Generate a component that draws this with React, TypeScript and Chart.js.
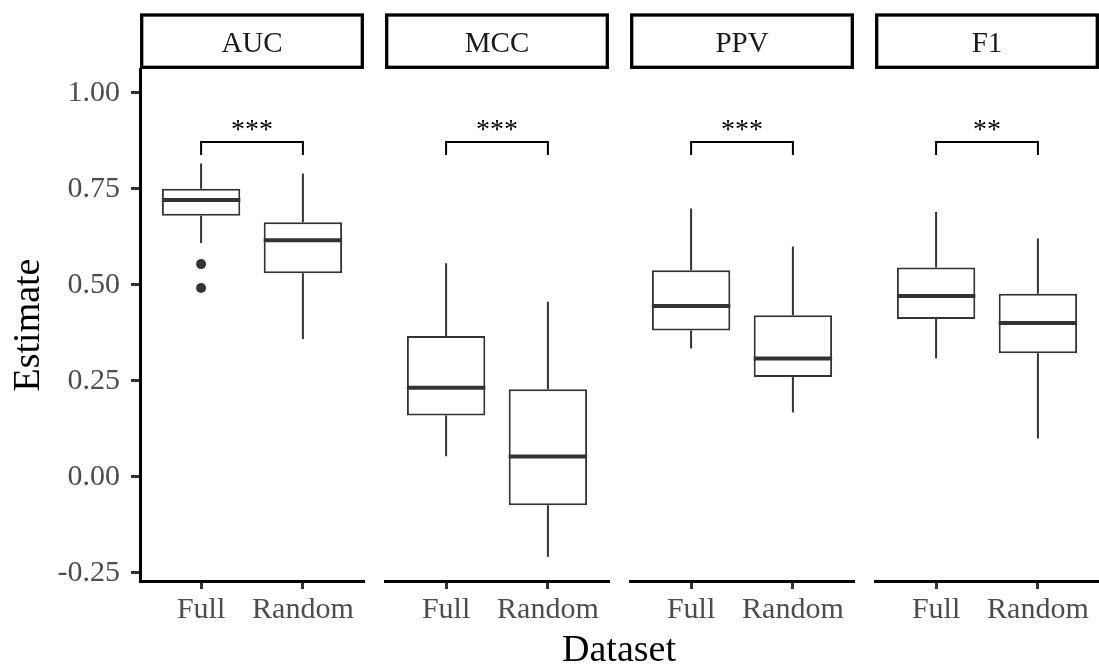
import React, { useEffect, useRef } from 'react';
import { Chart, registerables } from 'chart.js';

Chart.register(...registerables);
Chart.defaults.font.family = '"Liberation Serif", "Times New Roman", serif';

// ---------- data ----------
const metrics = ['AUC', 'MCC', 'PPV', 'F1'];
const datasetLabels = ['Full', 'Random'];
const xPositions = [1, 2];
const yTicks = [-0.25, 0, 0.25, 0.5, 0.75, 1.0];
const yMin = -0.271;
const yMax = 1.062;

const fullLower = [0.609, 0.054, 0.334, 0.308];
const fullQ1 = [0.680, 0.160, 0.381, 0.411];
const fullMedian = [0.721, 0.232, 0.445, 0.471];
const fullQ3 = [0.750, 0.367, 0.538, 0.545];
const fullUpper = [0.816, 0.556, 0.699, 0.690];

const randomLower = [0.359, -0.208, 0.168, 0.100];
const randomQ1 = [0.530, -0.074, 0.260, 0.322];
const randomMedian = [0.616, 0.053, 0.308, 0.401];
const randomQ3 = [0.663, 0.228, 0.421, 0.477];
const randomUpper = [0.790, 0.456, 0.600, 0.621];

const aucFullOutliers = [0.554, 0.492];

const significance = ['***', '***', '***', '**'];
const bracketTop = 0.872;
const bracketTip = 0.838;

// ---------- layout / style ----------
const panelLefts = [140, 385, 630, 875];
const panelWidth = 224;
const boxFraction = 0.77;
const BOX = '#333333';
const TICK_TXT = '#4D4D4D';

const boxPlugin = {
  id: 'boxExtras',
  beforeDatasetsDraw(chart: any, _a: any, opts: any) {
    const i = opts.index;
    const x = chart.scales.x;
    const y = chart.scales.y;
    const ctx = chart.ctx;
    const lowers = [fullLower[i], randomLower[i]];
    const uppers = [fullUpper[i], randomUpper[i]];
    const q1s = [fullQ1[i], randomQ1[i]];
    const q3s = [fullQ3[i], randomQ3[i]];
    ctx.save();
    ctx.strokeStyle = BOX;
    ctx.lineWidth = 2;
    for (let k = 0; k < 2; k++) {
      const px = x.getPixelForValue(xPositions[k]);
      ctx.beginPath();
      ctx.moveTo(px, y.getPixelForValue(uppers[k]));
      ctx.lineTo(px, y.getPixelForValue(q3s[k]));
      ctx.moveTo(px, y.getPixelForValue(q1s[k]));
      ctx.lineTo(px, y.getPixelForValue(lowers[k]));
      ctx.stroke();
    }
    ctx.restore();
  },
  afterDatasetsDraw(chart: any, _a: any, opts: any) {
    const i = opts.index;
    const x = chart.scales.x;
    const y = chart.scales.y;
    const ctx = chart.ctx;
    const medians = [fullMedian[i], randomMedian[i]];
    ctx.save();
    ctx.strokeStyle = BOX;
    ctx.lineWidth = 4;
    ctx.lineCap = 'butt';
    for (let k = 0; k < 2; k++) {
      const px = x.getPixelForValue(xPositions[k]);
      const half = x.getPixelForValue(xPositions[k] + boxFraction / 2) - px;
      const py = y.getPixelForValue(medians[k]);
      ctx.beginPath();
      ctx.moveTo(px - half, py);
      ctx.lineTo(px + half, py);
      ctx.stroke();
    }
    // significance bracket
    const x1 = x.getPixelForValue(xPositions[0]);
    const x2 = x.getPixelForValue(xPositions[1]);
    const yt = y.getPixelForValue(bracketTop);
    const yb = y.getPixelForValue(bracketTip);
    ctx.strokeStyle = '#000';
    ctx.lineWidth = 2;
    ctx.beginPath();
    ctx.moveTo(x1, yb);
    ctx.lineTo(x1, yt);
    ctx.lineTo(x2, yt);
    ctx.lineTo(x2, yb);
    ctx.stroke();
    ctx.fillStyle = '#000';
    ctx.font = '28px "Liberation Serif"';
    ctx.textAlign = 'center';
    ctx.textBaseline = 'alphabetic';
    ctx.fillText(significance[i], (x1 + x2) / 2, yt - 4);
    ctx.restore();
  },
  afterDraw(chart: any, _a: any, opts: any) {
    const i = opts.index;
    const ctx = chart.ctx;
    const { left, right, top } = chart.chartArea;
    ctx.save();
    ctx.fillStyle = '#fff';
    ctx.fillRect(left + 1.7, top - 54, right - left - 3.4, 52.3);
    ctx.strokeStyle = '#000';
    ctx.lineWidth = 3.3;
    ctx.strokeRect(left + 1.7, top - 54, right - left - 3.4, 52.3);
    ctx.fillStyle = '#1A1A1A';
    ctx.font = '29px "Liberation Serif"';
    ctx.textAlign = 'center';
    ctx.textBaseline = 'alphabetic';
    ctx.fillText(metrics[i], (left + right) / 2, top - 17.3);
    ctx.restore();
  },
};

function Panel({ index }: { index: number }) {
  const ref = useRef<HTMLCanvasElement | null>(null);
  const first = index === 0;
  const last = index === metrics.length - 1;
  const canvasLeft = first ? 0 : panelLefts[index] - 7;
  const padLeft = first ? 0 : 7;
  const padRight = last ? 0 : 6;
  const canvasWidth = last ? 1099 - canvasLeft : panelLefts[index] + panelWidth + padRight - canvasLeft;

  useEffect(() => {
    if (!ref.current) return;
    const datasets: any[] = [
      {
        type: 'bar',
        data: [
          { x: xPositions[0], y: [fullQ1[index], fullQ3[index]] },
          { x: xPositions[1], y: [randomQ1[index], randomQ3[index]] },
        ],
        backgroundColor: '#ffffff',
        borderColor: BOX,
        borderWidth: 2,
        borderSkipped: false,
        barPercentage: boxFraction,
        categoryPercentage: 1,
      },
    ];
    if (metrics[index] === 'AUC') {
      datasets.push({
        type: 'scatter',
        data: aucFullOutliers.map((v) => ({ x: xPositions[0], y: v })),
        pointRadius: 5,
        pointBackgroundColor: BOX,
        pointBorderWidth: 0,
        showLine: false,
      });
    }
    const chart = new Chart(ref.current, {
      type: 'bar',
      data: { datasets },
      plugins: [boxPlugin],
      options: {
        animation: false,
        responsive: false,
        events: [],
        layout: { padding: { top: 69, left: padLeft, right: padRight, bottom: 0 } },
        plugins: {
          legend: { display: false },
          tooltip: { enabled: false },
          boxExtras: { index },
        } as any,
        scales: {
          x: {
            type: 'linear',
            min: 0.4,
            max: 2.6,
            offset: false,
            afterBuildTicks: (s: any) => {
              s.ticks = xPositions.map((v) => ({ value: v }));
            },
            afterFit: (s: any) => {
              s.height = 85;
            },
            ticks: {
              autoSkip: false,
              maxRotation: 0,
              padding: 3,
              color: TICK_TXT,
              font: { size: 30 },
              callback: (_v: any, idx: number) => datasetLabels[idx],
            },
            grid: {
              offset: false,
              drawOnChartArea: false,
              drawTicks: true,
              tickLength: 8,
              tickWidth: 3,
              tickColor: '#333333',
              color: '#333333',
            },
            border: { display: true, color: '#000', width: 3 },
          },
          y: {
            type: 'linear',
            min: yMin,
            max: yMax,
            display: first,
            afterBuildTicks: (s: any) => {
              s.ticks = yTicks.map((v) => ({ value: v }));
            },
            afterFit: (s: any) => {
              s.width = first ? 140 : 0;
            },
            ticks: {
              color: TICK_TXT,
              font: { size: 30 },
              padding: 11,
              callback: (v: any) => Number(v).toFixed(2),
            },
            grid: {
              drawOnChartArea: false,
              drawTicks: true,
              tickLength: 9,
              tickWidth: 3,
              tickColor: '#333333',
              color: '#333333',
            },
            border: { display: true, color: '#000', width: 3 },
            title: {
              display: true,
              text: 'Estimate',
              color: '#000',
              font: { size: 38 },
              padding: { top: 6, bottom: 0 },
            },
          },
        } as any,
      },
    } as any);
    return () => chart.destroy();
  }, [index]);

  return (
    <canvas
      ref={ref}
      width={canvasWidth}
      height={666}
      style={{ position: 'absolute', left: canvasLeft, top: 0, width: canvasWidth, height: 666 }}
    />
  );
}

export default function App() {
  return (
    <div
      style={{
        position: 'fixed',
        left: 0,
        top: 0,
        width: 1099,
        height: 666,
        background: '#ffffff',
        overflow: 'hidden',
      }}
    >
      {metrics.map((m, i) => (
        <Panel key={m} index={i} />
      ))}
      <div
        style={{
          position: 'absolute',
          left: 519,
          width: 200,
          top: 629,
          textAlign: 'center',
          fontFamily: '"Liberation Serif", "Times New Roman", serif',
          fontSize: 38,
          lineHeight: 1,
          color: '#000',
        }}
      >
        Dataset
      </div>
    </div>
  );
}
